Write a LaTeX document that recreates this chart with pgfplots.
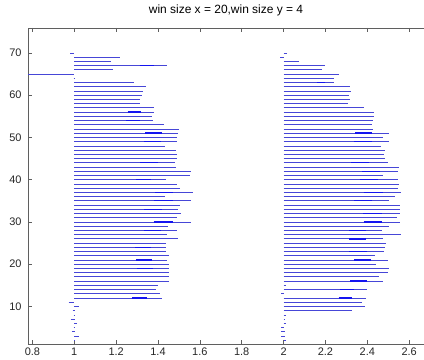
\documentclass[border=0pt]{standalone}
\usepackage{pgfplots}
\pgfplotsset{compat=1.18}
\usepackage{pgfplotstable}
\usepackage{fontspec}
\setmainfont{Liberation Sans}
\definecolor{mline}{RGB}{70,70,215}
\definecolor{mdark}{RGB}{20,20,240}
\definecolor{axgray}{RGB}{95,95,95}

\pgfplotstableread{
y x0 x1
70 0.981 1.0
69 1 1.22
68 1 1.175
67 1 1.443
66 1 1.185
65 0.78 1.0
64 0.997 1.003
63 1 1.287
62 1 1.344
61 1 1.330
60 1 1.322
59 1 1.314
58 1 1.314
57 1 1.382
56 1 1.382
55 1 1.371
54 1 1.378
53 1 1.427
52 1 1.502
51 1 1.496
50 1 1.492
49 1 1.492
48 1 1.435
47 1 1.488
46 1 1.492
45 1 1.492
44 1 1.482
43 1 1.488
42 1 1.560
41 1 1.553
40 1 1.440
39 1 1.489
38 1 1.505
37 1 1.567
36 1 1.435
35 1 1.557
34 1 1.505
33 1 1.497
32 1 1.510
31 1 1.492
30 1 1.560
29 1 1.446
28 1 1.492
27 1 1.442
26 1 1.495
25 1 1.440
24 1 1.440
23 1 1.440
22 1 1.451
21 1 1.442
20 1 1.451
19 1 1.451
18 1 1.451
17 1 1.455
16 1 1.451
15 1 1.398
14 1 1.392
13 1 1.408
12 1 1.419
11 0.973 1.0
10 1.0 1.021
9 0.992 1.005
8 0.997 1.005
7 0.984 1.003
6 1.0 1.013
5 0.997 1.005
4 0.989 1.003
3 1.0 1.021
2 1.0 1.005
}\leftmain

\pgfplotstableread{
y x0 x1
67 1.312 1.379
56 1.255 1.319
54 1.248 1.312
51 1.339 1.419
49 1.334 1.414
44 1.315 1.398
40 1.296 1.366
37 1.387 1.474
35 1.379 1.471
33 1.334 1.419
30 1.379 1.474
28 1.331 1.414
24 1.291 1.366
21 1.296 1.371
19 1.300 1.376
12 1.276 1.347
}\leftdark

\pgfplotstableread{
y x0 x1
70 2.0 2.015
69 1.984 2.003
68 2 2.072
67 2 2.199
66 2 2.183
65 2 2.263
64 2 2.242
63 2 2.242
62 2 2.319
61 2 2.322
60 2 2.311
59 2 2.316
58 2 2.306
57 2 2.382
56 2 2.434
55 2 2.430
54 2 2.427
53 2 2.422
52 2 2.427
51 2 2.502
50 2 2.475
49 2 2.502
48 2 2.465
47 2 2.486
46 2 2.480
45 2 2.486
44 2 2.497
43 2 2.550
42 2 2.545
41 2 2.475
40 2 2.545
39 2 2.550
38 2 2.545
37 2 2.563
36 2 2.534
35 2 2.502
34 2 2.554
33 2 2.557
32 2 2.557
31 2 2.542
30 2 2.557
29 2 2.502
28 2 2.470
27 2 2.561
26 2 2.475
25 2 2.491
24 2 2.486
23 2 2.480
22 2 2.438
21 2 2.497
20 2 2.443
19 2 2.502
18 2 2.497
17 2 2.456
16 2 2.475
15 2.0 2.013
14 2 2.401
13 1.989 2.0
12 2 2.395
11 2 2.375
10 2 2.390
9 2 2.327
8 2.0 2.010
7 2.0 2.006
6 2.0 2.010
5 1.989 2.0
4 1.99 2.005
3 1.99 2.008
2 2.0 2.01
}\rightmain

\pgfplotstableread{
y x0 x1
63 2.162 2.199
51 2.343 2.422
49 2.338 2.422
44 2.323 2.406
42 2.375 2.462
40 2.363 2.449
37 2.382 2.475
35 2.338 2.422
32 2.379 2.470
30 2.382 2.470
28 2.315 2.395
26 2.315 2.395
23 2.315 2.398
21 2.338 2.416
16 2.318 2.398
14 2.271 2.338
12 2.263 2.327
}\rightdark

\begin{document}
\begin{tikzpicture}
\path[use as bounding box] (-28bp,-16bp) rectangle (396bp,344bp);
\begin{axis}[
  at={(0,0)}, anchor=south west,
  width=396bp, height=316bp, scale only axis,
  xmin=0.779, xmax=2.671, ymin=1.1, ymax=75.9,
  axis x line=box, axis y line=left,
  axis line style={-, draw=axgray, line width=0.6pt},
  xtick={0.8,1,1.2,1.4,1.6,1.8,2,2.2,2.4,2.6},
  xticklabels={0.8,1,1.2,1.4,1.6,1.8,2,2.2,2.4,2.6},
  ytick={10,20,30,40,50,60,70},
  yticklabels={10,20,30,40,50,60,70},
  tick align=inside, major tick length=4bp,
  tick style={draw=axgray, line width=0.6pt},
  ticklabel style={font=\fontsize{11}{13}\selectfont, text=black!85},
  yticklabel style={xshift=-3bp},
  title={win size x = 20,win size y = 4},
  title style={font=\fontsize{12}{14}\selectfont, at={(0.5,1)}, anchor=base, yshift=9bp},
  clip=true,
]
\addplot[mline, line width=0.7pt, quiver={u=\thisrow{x1}-\thisrow{x0}, v=0}] table[x=x0, y=y] {\leftmain};
\addplot[mline, line width=0.7pt, quiver={u=\thisrow{x1}-\thisrow{x0}, v=0}] table[x=x0, y=y] {\rightmain};
\addplot[mdark, line width=1.4pt, quiver={u=\thisrow{x1}-\thisrow{x0}, v=0}] table[x=x0, y=y] {\leftdark};
\addplot[mdark, line width=1.4pt, quiver={u=\thisrow{x1}-\thisrow{x0}, v=0}] table[x=x0, y=y] {\rightdark};
\end{axis}
\end{tikzpicture}
\end{document}
